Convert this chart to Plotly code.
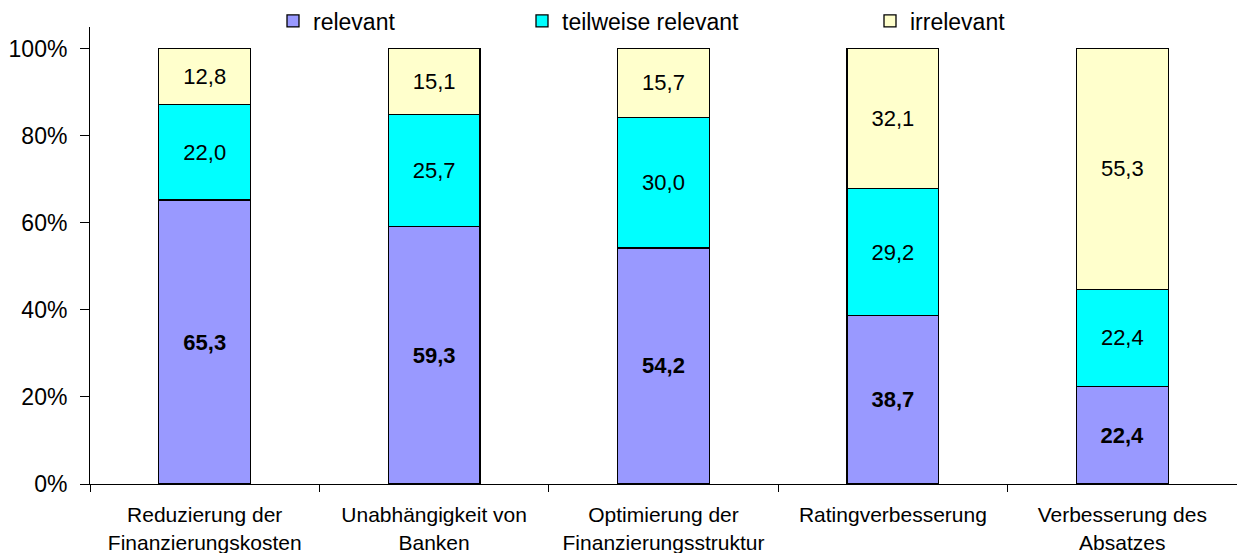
import plotly.graph_objects as go

categories = ["Reduzierung der<br>Finanzierungskosten", "Unabhängigkeit von<br>Banken",
              "Optimierung der<br>Finanzierungsstruktur", "Ratingverbesserung",
              "Verbesserung des<br>Absatzes"]
relevant = [65.3, 59.3, 54.2, 38.7, 22.4]
teilweise = [22.0, 25.7, 30.0, 29.2, 22.4]
irrelevant = [12.8, 15.1, 15.7, 32.1, 55.3]
series_names = ["relevant", "teilweise relevant", "irrelevant"]
colors = ["#9999FF", "#00FFFF", "#FFFFCC"]
y_ticks = [0, 20, 40, 60, 80, 100]

FONT = "Liberation Sans, Arial, sans-serif"
W, H = 1237, 553

def fmt(v):
    return f"{v:.1f}".replace(".", ",")

series = [relevant, teilweise, irrelevant]
legend_names = ["legend", "legend2", "legend3"]
fig = go.Figure()
for i, (name, vals, col) in enumerate(zip(series_names, series, colors)):
    fig.add_trace(go.Bar(
        x=categories, y=vals, name=name,
        marker=dict(color=col, line=dict(color="black", width=1.3)),
        text=[fmt(v) for v in vals], texttemplate="%{text}",
        textposition="inside", insidetextanchor="middle", textangle=0,
        constraintext="none",
        textfont=dict(family=FONT, size=22, color="black",
                      weight="bold" if i == 0 else "normal"),
        width=0.4, legend=legend_names[i], hoverinfo="skip",
    ))

leg_common = dict(orientation="h", xref="container", yref="container",
                  xanchor="left", yanchor="middle",
                  font=dict(family=FONT, size=23, color="black"),
                  bgcolor="rgba(0,0,0,0)", borderwidth=0)
marker_x = [287, 536, 884]
layout_leg = {}
for ln, mx in zip(legend_names, marker_x):
    layout_leg[ln] = dict(leg_common, x=(mx - 14) / W, y=1 - 21 / H)

fig.update_layout(
    width=W, height=H, barmode="stack", barnorm="percent",
    paper_bgcolor="white", plot_bgcolor="white",
    margin=dict(l=90, r=0, t=27, b=H - 484, pad=0, autoexpand=False),
    font=dict(family=FONT, size=22, color="black"),
    showlegend=True,
    **layout_leg,
)
fig.update_xaxes(
    type="category", range=[-0.5, 4.5], showline=True, linecolor="black", linewidth=1,
    ticks="outside", tickson="boundaries", ticklen=7, tickcolor="black", tickwidth=1,
    tickfont=dict(family=FONT, size=21, color="black"), showgrid=False,
    ticklabelstandoff=12,
)
fig.update_yaxes(
    range=[0, 105], tickvals=y_ticks, ticktext=[f"{t}%" for t in y_ticks],
    showline=True, linecolor="black", linewidth=1, ticks="outside", ticklen=9,
    tickcolor="black", tickwidth=1, showgrid=False, zeroline=False,
    tickfont=dict(family=FONT, size=23, color="black"), ticklabelstandoff=8,
)
fig.write_html("out.html", config={"displayModeBar": False},
               post_script="document.body.style.margin='0';document.body.style.overflow='hidden';")
